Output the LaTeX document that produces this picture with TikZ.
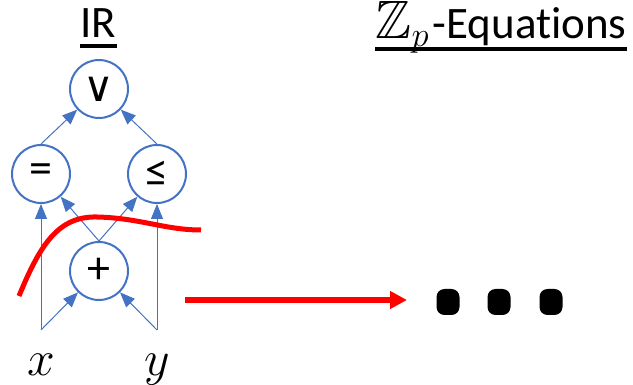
\documentclass[tikz,border=0pt]{standalone}
\usepackage{fontspec}
\usepackage{amssymb}
\setmainfont{Carlito}[Ligatures={NoCommon}]
\newfontfamily\djv{DejaVu Sans}
\usetikzlibrary{arrows.meta}
\definecolor{irblue}{HTML}{4472C4}
\begin{document}
\begin{tikzpicture}[x=0.5pt,y=-0.5pt,
  op/.style={circle,draw=irblue,line width=1pt,minimum size=29pt,inner sep=0pt,font=\fontsize{23}{26}\selectfont},
  edge/.style={draw=irblue,line width=0.5pt,-{Triangle[length=7.5pt,width=6pt]}},
  title/.style={inner sep=0pt,font=\fontsize{22.5}{26}\selectfont},
  uline/.style={line width=2.2pt},
  var/.style={anchor=base,inner sep=0pt,font=\fontsize{25}{28}\selectfont},
  redline/.style={red,line width=2.5pt},
  dotbox/.style={fill=black,rounded corners=4pt,minimum width=11.5pt,minimum height=13pt,inner sep=0pt}]
\useasboundingbox (0,0) rectangle (633,385);
% titles
\node[title,anchor=base] (ir) at (98.5,38) {IR};
\draw[uline] ([yshift=-4pt]ir.base west) -- ([yshift=-4pt]ir.base east);
\node[title,anchor=base east] (zp) at (627,39) {{\fontsize{27}{28}\selectfont$\mathbb{Z}_p$}\hspace{1.5pt}-Equations};
\draw[uline] ([yshift=-5pt]zp.base west) -- ([yshift=-5pt]zp.base east);
% nodes
\node[op] (or) at (99,89) {\djv\fontsize{21}{22}\selectfont ∨};
\node[op] (eq) at (41,174) {=};
\node[op] (le) at (157,174) {≤};
\node[op] (plus) at (99,271) {+};
\coordinate (xs) at (41,330);
\coordinate (ys) at (157,330);
\node[var] (xl) at (41,375) {$x$};
\node[var] (yl) at (157,375) {$y$};
% edges
\draw[edge] (eq.north) -- (or);
\draw[edge] (le.north) -- (or);
\draw[edge] (plus.north) -- (eq);
\draw[edge] (plus.north) -- (le);
\draw[edge] (xs) -- (eq);
\draw[edge] (xs) -- (plus);
\draw[edge] (ys) -- (le);
\draw[edge] (ys) -- (plus);
% red cut
\draw[redline] (19,296) .. controls (40,245) and (58,216) .. (97,217)
  .. controls (140,218) and (165,230) .. (201,230);
% red arrow
\coordinate (as) at (185,300);
\node[dotbox] (d1) at (448,302) {};
\node[dotbox] (d2) at (499,302) {};
\node[dotbox] (d3) at (551,302) {};
\coordinate (ae) at (407,300);
\draw[red,line width=3pt,-{Triangle[length=8.5pt,width=8.5pt]}] (as) -- (ae);
\end{tikzpicture}
\end{document}
